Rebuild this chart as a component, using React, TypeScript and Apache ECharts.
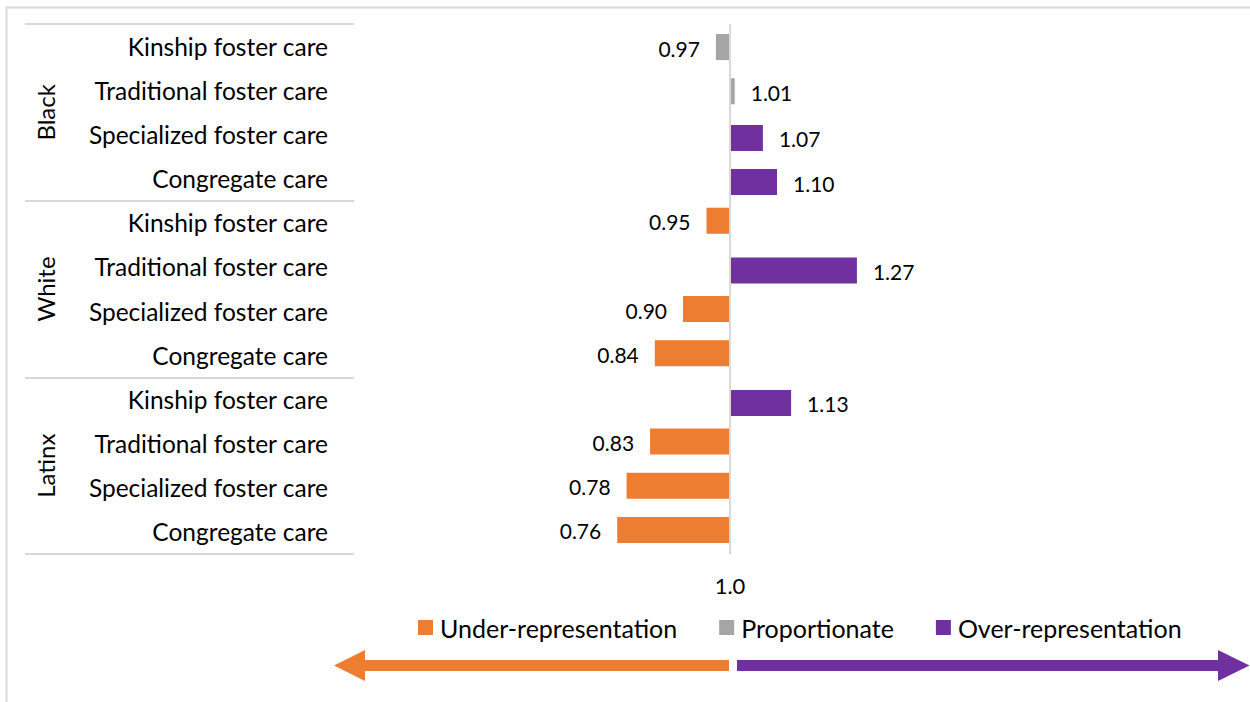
import React, { useEffect, useRef } from "react";
import * as echarts from "echarts";

const GROUPS = ["Black", "White", "Latinx"];
const SETTINGS = [
  "Kinship foster care",
  "Traditional foster care",
  "Specialized foster care",
  "Congregate care",
];
const BLACK_VALUES = [0.97, 1.01, 1.07, 1.1];
const WHITE_VALUES = [0.95, 1.27, 0.9, 0.84];
const LATINX_VALUES = [1.13, 0.83, 0.78, 0.76];
const BLACK_CLASS = ["Proportionate", "Proportionate", "Over-representation", "Over-representation"];
const WHITE_CLASS = ["Under-representation", "Over-representation", "Under-representation", "Under-representation"];
const LATINX_CLASS = ["Over-representation", "Under-representation", "Under-representation", "Under-representation"];
const SERIES_NAMES = ["Under-representation", "Proportionate", "Over-representation"];
const SERIES_COLORS = ["#ED7D31", "#A5A5A5", "#7030A0"];
const SERIES_OFFSETS = [-2, 1, 3.5];
const REFERENCE = 1.0;
const X_TICK_LABELS = [1.0];

const FONT = "Lato, 'Noto Sans', sans-serif";

export default function App() {
  const ref = useRef<HTMLDivElement>(null);

  useEffect(() => {
    if (!ref.current) return;
    const chart = echarts.init(ref.current, null, { renderer: "svg" });

    const allValues = [BLACK_VALUES, WHITE_VALUES, LATINX_VALUES];
    const allClasses = [BLACK_CLASS, WHITE_CLASS, LATINX_CLASS];
    const categories: string[] = [];
    GROUPS.forEach((g) => SETTINGS.forEach((s) => categories.push(g + "|" + s)));

    const series = SERIES_NAMES.map((name, si) => {
      const data: number[][] = [];
      allValues.forEach((vals, gi) =>
        vals.forEach((v, k) => {
          if (allClasses[gi][k] === name) data.push([v, gi * SETTINGS.length + k]);
        })
      );
      const s: any = {
        type: "custom",
        name,
        xAxisIndex: 0,
        yAxisIndex: 0,
        itemStyle: { color: SERIES_COLORS[si] },
        encode: { x: 0, y: 1 },
        data,
        renderItem: (params: any, api: any) => {
          const v = api.value(0);
          const yi = api.value(1);
          const p0 = api.coord([REFERENCE, yi]);
          const p1 = api.coord([v, yi]);
          const band = api.size([0, 1])[1];
          const h = band * 0.59;
          const cy = p0[1] + SERIES_OFFSETS[si];
          const low = v < REFERENCE;
          const x0 = Math.min(p0[0], p1[0]);
          const w = Math.abs(p1[0] - p0[0]);
          return {
            type: "group",
            children: [
              {
                type: "rect",
                shape: { x: x0, y: cy - h / 2, width: w, height: h },
                style: { fill: SERIES_COLORS[si] },
              },
              {
                type: "text",
                x: low ? p1[0] - 16 : p1[0] + 16,
                y: cy + 1,
                style: {
                  text: v.toFixed(2),
                  fill: "#000",
                  fontSize: 21,
                  fontFamily: FONT,
                  align: low ? "right" : "left",
                  verticalAlign: "middle",
                },
              },
            ],
          };
        },
      };
      if (si === 0) {
        s.markLine = {
          silent: true,
          symbol: "none",
          label: { show: false },
          lineStyle: { color: "#D9D9D9", width: 2, type: "solid" },
          data: [{ xAxis: REFERENCE }],
        };
      }
      return s;
    });

    const option: any = {
      animation: false,
      backgroundColor: "#fff",
      grid: { left: 354, top: 24, right: 50, bottom: 148, containLabel: false },
      legend: {
        data: SERIES_NAMES,
        left: 413,
        top: 610,
        icon: "rect",
        itemWidth: 15,
        itemHeight: 15,
        itemGap: 42,
        textStyle: { fontSize: 25, color: "#000", fontFamily: FONT, padding: [0, 0, 0, 2] },
      },
      xAxis: {
        type: "value",
        min: 0.2,
        max: 2.0,
        interval: 0.2,
        axisLine: { show: false },
        axisTick: { show: false },
        splitLine: { show: false },
        axisLabel: {
          customValues: X_TICK_LABELS,
          margin: 20,
          fontSize: 22,
          color: "#000",
          fontFamily: FONT,
          formatter: (v: number) =>
            X_TICK_LABELS.some((t) => Math.abs(v - t) < 1e-6) ? v.toFixed(1) : "",
        },
      },
      yAxis: [
        {
          type: "category",
          data: categories,
          inverse: true,
          position: "left",
          axisLine: { show: false },
          axisTick: { show: false },
          axisLabel: {
            margin: 26,
            fontSize: 24.5,
            color: "#000",
            fontFamily: FONT,
            formatter: (v: string) => v.split("|")[1],
          },
        },
        {
          type: "category",
          data: GROUPS,
          inverse: true,
          position: "left",
          axisLine: { show: false },
          axisTick: { show: true, length: 329, lineStyle: { color: "#D9D9D9", width: 2 } },
          axisLabel: {
            rotate: 90,
            margin: 297,
            fontSize: 24,
            color: "#000",
            fontFamily: FONT,
          },
        },
      ],
      graphic: [
        {
          type: "line",
          shape: { x1: 6.5, y1: 7, x2: 6.5, y2: 702 },
          style: { stroke: "#D9D9D9", lineWidth: 2 },
        },
        {
          type: "line",
          shape: { x1: 6, y1: 7.5, x2: 1250, y2: 7.5 },
          style: { stroke: "#D9D9D9", lineWidth: 2 },
        },
        {
          type: "polygon",
          shape: {
            points: [
              [729, 660], [365, 660], [365, 650], [334, 665.5], [365, 681], [365, 671], [729, 671],
            ],
          },
          style: { fill: "#ED7D31" },
        },
        {
          type: "polygon",
          shape: {
            points: [
              [737, 660], [1218, 660], [1218, 650], [1249.5, 665.5], [1218, 681], [1218, 671], [737, 671],
            ],
          },
          style: { fill: "#7030A0" },
        },
      ],
      series,
    };

    chart.setOption(option);
    return () => chart.dispose();
  }, []);

  return (
    <div
      ref={ref}
      style={{ position: "absolute", left: 0, top: 0, width: 1250, height: 702 }}
    />
  );
}
